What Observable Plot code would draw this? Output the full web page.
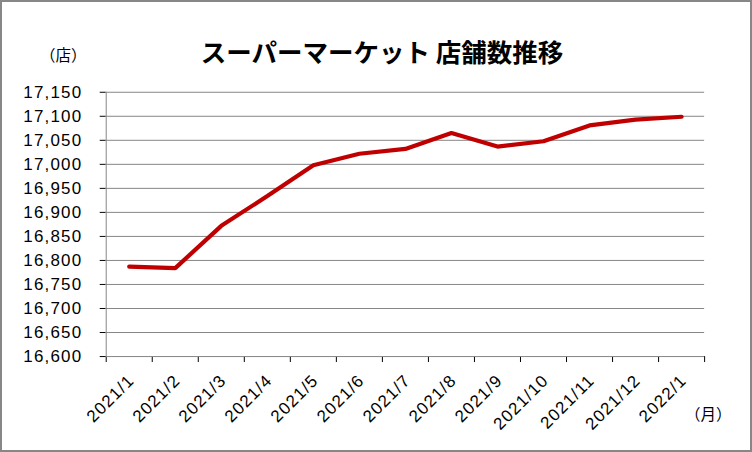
<!DOCTYPE html>
<html>
<head>
<meta charset="utf-8">
<script src="https://cdn.jsdelivr.net/npm/d3@7"></script>
<script src="https://cdn.jsdelivr.net/npm/@observablehq/plot@0.6"></script>
<style>
  html, body { margin: 0; padding: 0; background: #fff; }
  #wrap { position: relative; width: 752px; height: 452px; box-sizing: border-box; border: 2px solid #878787; overflow: hidden;
          font-family: "Liberation Sans", "Noto Sans CJK JP", sans-serif; }
  #chart { position: absolute; left: -2px; top: -2px; }
  #chart svg text { letter-spacing: 1.2px; }
  .title { position: absolute; left: 180px; width: 400px; top: 36px; text-align: center;
           font-family: "Noto Sans CJK JP", sans-serif; font-weight: bold; font-size: 25.5px; line-height: 1; color: #000; }
  .unit { position: absolute; font-family: "Noto Sans CJK JP", sans-serif; font-size: 15.5px; line-height: 1; color: #000; }
</style>
</head>
<body>
<div id="wrap">
  <div id="chart"></div>
  <div class="title">スーパーマーケット 店舗数推移</div>
  <div class="unit" style="left:38px; top:45px;">（店）</div>
  <div class="unit" style="left:683px; top:404px;">（月）</div>
</div>
<script>
const months = ["2021/1","2021/2","2021/3","2021/4","2021/5","2021/6","2021/7","2021/8","2021/9","2021/10","2021/11","2021/12","2022/1"];
const stores = [16787, 16784, 16872, 16934, 16998, 17022, 17032, 17065, 17037, 17048, 17081, 17093, 17099];
const yTicks = [16600,16650,16700,16750,16800,16850,16900,16950,17000,17050,17100,17150];

const data = months.map((m, i) => ({i, m, v: stores[i]}));
const edges = d3.range(months.length + 1).map(k => k - 0.5);
const fmt = d3.format(",");

const chart = Plot.plot({
  width: 752,
  height: 452,
  marginLeft: 106,
  marginRight: 46,
  marginTop: 92,
  marginBottom: 95,
  style: {fontFamily: "Liberation Sans, Arial, sans-serif", fontSize: "17px", color: "#000", background: "transparent"},
  x: {domain: [-0.5, months.length - 0.5], ticks: edges, tickFormat: () => "", tickSize: 6, label: null},
  y: {domain: [yTicks[0], yTicks[yTicks.length - 1]], ticks: yTicks, tickFormat: fmt, tickSize: 6, tickPadding: 18, label: null},
  marks: [
    Plot.ruleY(yTicks, {stroke: "#868686", strokeWidth: 1}),
    Plot.ruleX([edges[0]], {stroke: "#868686", strokeWidth: 1}),
    Plot.line(data, {x: "i", y: "v", stroke: "#C00000", strokeWidth: 4.2, strokeLinejoin: "miter", strokeLinecap: "round"}),
    Plot.text(data, {x: "i", text: "m", frameAnchor: "bottom", rotate: -45, textAnchor: "end", dx: 6, dy: 25, fontSize: 17, fill: "#000"})
  ]
});
document.getElementById("chart").appendChild(chart);
</script>
</body>
</html>
